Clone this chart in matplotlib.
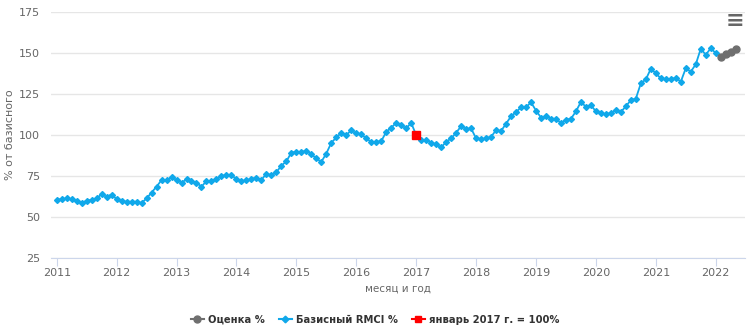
import numpy as np
import matplotlib
matplotlib.use("Agg")
import matplotlib.pyplot as plt
from matplotlib.lines import Line2D

# monthly basic RMCI %, Jan 2011 .. Jan 2022
rmci = [
    60.6, 61.0, 61.4, 60.8, 60.0, 58.6, 60.0, 60.6, 61.4, 64.0, 62.4, 63.8,      # 2011
    61.0, 59.6, 59.4, 59.4, 59.4, 58.6, 61.4, 65.0, 68.6, 72.6, 72.6, 74.2,      # 2012
    72.8, 71.0, 73.0, 72.0, 71.0, 68.6, 72.0, 72.0, 73.0, 75.0, 75.8, 75.8,      # 2013
    73.0, 72.0, 72.4, 73.4, 74.0, 72.6, 76.6, 75.4, 77.4, 81.4, 84.0, 89.4,      # 2014
    89.8, 89.8, 90.4, 88.4, 85.8, 83.7, 88.8, 95.3, 98.6, 101.4, 100.0, 103.0,   # 2015
    101.0, 100.6, 98.0, 95.9, 95.9, 96.3, 102.0, 104.5, 107.5, 106.1, 104.1, 107.5,  # 2016
    100.0, 97.0, 97.0, 95.3, 94.5, 92.5, 95.9, 98.0, 101.4, 105.5, 103.7, 104.1,     # 2017
    98.0, 97.5, 98.0, 99.0, 103.0, 102.5, 107.0, 111.5, 114.0, 117.0, 117.0, 120.0,  # 2018
    115.0, 110.7, 111.5, 110.0, 110.0, 107.4, 109.4, 110.0, 114.5, 120.3, 117.2, 118.2,  # 2019
    114.5, 113.5, 112.7, 113.5, 115.2, 114.1, 117.6, 121.3, 122.3, 131.6, 134.0, 140.5,  # 2020
    137.7, 134.6, 134.0, 134.0, 135.0, 132.6, 140.8, 138.7, 143.2, 152.7, 149.0, 153.0,  # 2021
    150.0,                                                                       # 2022
]
# estimate %, Feb .. May 2022
estimate = [147.5, 149.6, 150.6, 152.5]
base_value = 100.0   # January 2017

years = list(range(2011, 2023))

x_rmci = 2011 + np.arange(len(rmci)) / 12.0
x_est = 2011 + (len(rmci) + np.arange(len(estimate))) / 12.0
x_base = 2017.0

blue = "#10a8ea"
grey = "#6f6f6f"
red = "#ff0000"
txt = "#666666"

fig = plt.figure(figsize=(7.5, 3.28), dpi=100)
ax = fig.add_axes([0.068, 0.213, 0.925, 0.750])

ax.plot(x_rmci, rmci, color=blue, lw=1.3, marker="D", ms=3.0, mec=blue, mfc=blue, zorder=3)
ax.plot(x_est, estimate, color=grey, lw=1.3, marker="o", ms=5.0, mec=grey, mfc=grey, zorder=3)
ax.plot([x_base], [base_value], color=red, marker="s", ms=6.0, ls="none", zorder=4)

ax.set_ylim(25, 175)
ax.set_yticks(range(25, 176, 25))
ax.set_xlim(2010.905, 2022.484)
ax.set_xticks(years)
ax.set_xticklabels([str(y) for y in years])

ax.grid(axis="y", color="#e6e6e6", lw=1)
ax.set_axisbelow(True)
for s in ["top", "right", "left"]:
    ax.spines[s].set_visible(False)
ax.spines["bottom"].set_color("#ccd6eb")
ax.tick_params(axis="y", length=0, labelsize=8, labelcolor=txt, pad=8)
ax.tick_params(axis="x", length=6, color="#ccd6eb", labelsize=8, labelcolor=txt, pad=1)

ax.set_ylabel("% от базисного", fontsize=8, color=txt, labelpad=3)
ax.set_xlabel("месяц и год", fontsize=7.5, color=txt, labelpad=4)

handles = [
    Line2D([], [], color=grey, lw=1.5, marker="o", ms=5.0),
    Line2D([], [], color=blue, lw=1.5, marker="D", ms=3.4),
    Line2D([], [], color=red, lw=1.5, marker="s", ms=5.0),
]
labels = ["Оценка %", "Базисный RMCI %", "январь 2017 г. = 100%"]
fig.legend(handles, labels, loc="lower center", bbox_to_anchor=(0.5, -0.018), ncol=3,
           frameon=False, prop={"size": 7.2, "weight": "bold"}, labelcolor="#333333",
           handlelength=1.3, columnspacing=1.4, handletextpad=0.4)

fig.text(0.98, 0.935, "≡", fontsize=16, color="#666666", ha="center", va="center", weight="bold")

fig.savefig("out.png", dpi=100)
